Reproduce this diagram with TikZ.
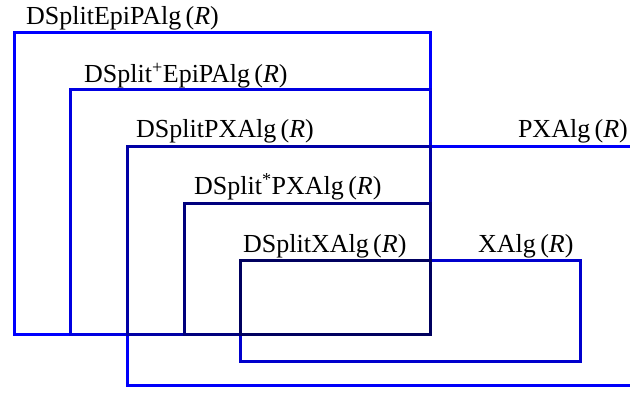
\documentclass[tikz,border=0pt]{standalone}
\usepackage{fontspec}
\setmainfont{Liberation Serif}
\begin{document}
\begin{tikzpicture}[x=1pt,y=-1pt,
  box/.style={line width=3pt},
  lbl/.style={anchor=base west,inner sep=0pt,font=\fontsize{26}{30}\selectfont}]
\useasboundingbox (0,0) rectangle (630,393);
\definecolor{cA}{RGB}{0,0,255}
\definecolor{cB}{RGB}{0,0,225}
\definecolor{cP}{RGB}{0,0,250}
\definecolor{cC}{RGB}{0,0,165}
\definecolor{cD}{RGB}{0,0,125}
\definecolor{cX}{RGB}{0,0,205}
\definecolor{cE}{RGB}{0,0,95}
\begin{scope}
\clip (0,0) rectangle (630,393);
\draw[box,cP] (127,147) rectangle (660,385);
\draw[box,cX] (240,261) rectangle (580,361);
\draw[box,cA] (14,33) rectangle (430,334);
\draw[box,cB] (70,90) rectangle (430,334);
\draw[box,cC] (127,147) rectangle (430,334);
\draw[box,cD] (184,204) rectangle (430,334);
\draw[box,cE] (240,261) rectangle (430,334);
\end{scope}
\node[lbl] (l1) at (26,25) {DSplitEpiPAlg\,(\textit{R})};
\node[lbl] (l2) at (84,83) {DSplit\textsuperscript{+}EpiPAlg\,(\textit{R})};
\node[lbl] (l3) at (136,138) {DSplitPXAlg\,(\textit{R})};
\node[lbl,anchor=base east] (l4) at (628,138) {PXAlg\,(\textit{R})};
\node[lbl] (l5) at (194,195) {DSplit\textsuperscript{*}PXAlg\,(\textit{R})};
\node[lbl] (l6) at (243,252) {DSplitXAlg\,(\textit{R})};
\node[lbl] (l7) at (478,252) {XAlg\,(\textit{R})};
\end{tikzpicture}
\end{document}
